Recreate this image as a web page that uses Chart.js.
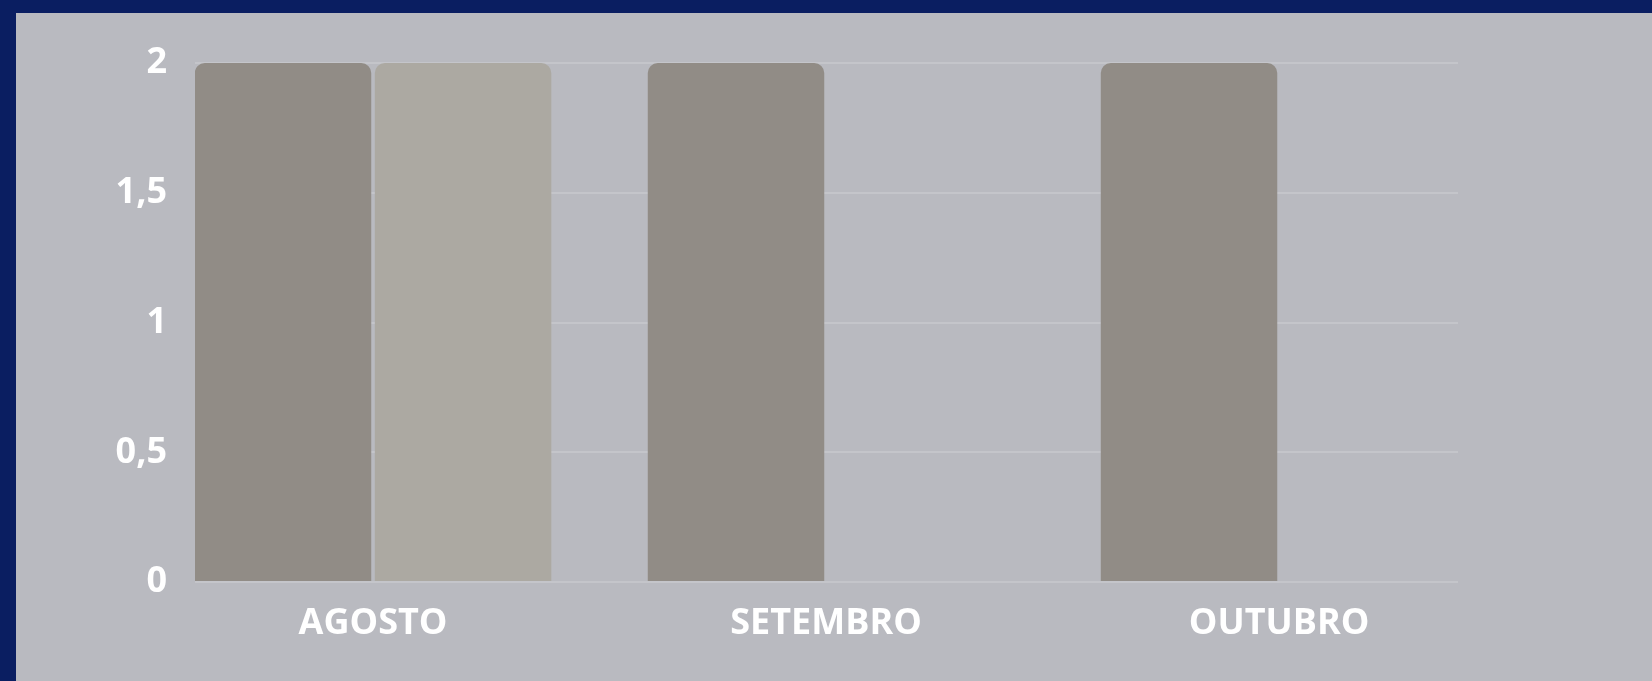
<!DOCTYPE html>
<html>
<head>
<meta charset="utf-8">
<script src="https://cdn.jsdelivr.net/npm/chart.js@4/dist/chart.umd.min.js"></script>
<style>
  html, body { margin: 0; padding: 0; background: #0a1e61; overflow: hidden; }
  #box {
    position: absolute; left: 16px; top: 13px;
    width: 1636px; height: 668px; background: #b9bac0;
  }
</style>
</head>
<body>
<div id="box"><canvas id="myChart" width="1636" height="668"></canvas></div>
<script>
const months = ['AGOSTO', 'SETEMBRO', 'OUTUBRO'];
const serieA = [2, 2, 2];
const serieB = [2, 0, 0];
const yTicks = [0, 0.5, 1, 1.5, 2];

const toPoints = vals => vals.map((v, i) => ({ x: i, y: v }));

const data = {
    datasets: [{
        label: 'A',
        data: toPoints(serieA),
        backgroundColor: '#918c86',
        borderRadius: 10,
        barPercentage: 0.98,
        categoryPercentage: 0.795
    }, {
        label: 'B',
        data: toPoints(serieB),
        backgroundColor: '#aca9a2',
        borderRadius: 10,
        barPercentage: 0.98,
        categoryPercentage: 0.795
    }]
};

const tickFont = { family: 'Open Sans', size: 36, weight: 'bold' };

const config = {
    type: 'bar',
    data,
    options: {
        responsive: false,
        animation: false,
        locale: 'pt-BR',
        layout: { padding: { left: 0, right: 194, top: 50, bottom: 0 } },
        plugins: {
            legend: { display: false },
            tooltip: { enabled: false }
        },
        scales: {
            x: {
                type: 'linear',
                min: -0.393,
                max: 2.395,
                offset: false,
                grid: { display: false },
                border: { display: false },
                afterFit(scale) { scale.height = 99; },
                afterBuildTicks(scale) { scale.ticks = months.map((m, i) => ({ value: i })); },
                ticks: {
                    color: '#ffffff',
                    font: tickFont,
                    padding: 12,
                    maxRotation: 0,
                    autoSkip: false,
                    callback: v => months[v]
                }
            },
            y: {
                min: 0,
                max: 2,
                afterFit(scale) { scale.width = 179; },
                afterBuildTicks(scale) { scale.ticks = yTicks.map(v => ({ value: v })); },
                grid: { color: '#c4c5ca', lineWidth: 2, drawTicks: false },
                border: { display: false },
                ticks: {
                    color: '#ffffff',
                    font: tickFont,
                    padding: 28,
                    callback: v => v.toLocaleString('pt-BR')
                }
            }
        }
    }
};

const myChart = new Chart(document.getElementById('myChart'), config);
</script>
</body>
</html>
